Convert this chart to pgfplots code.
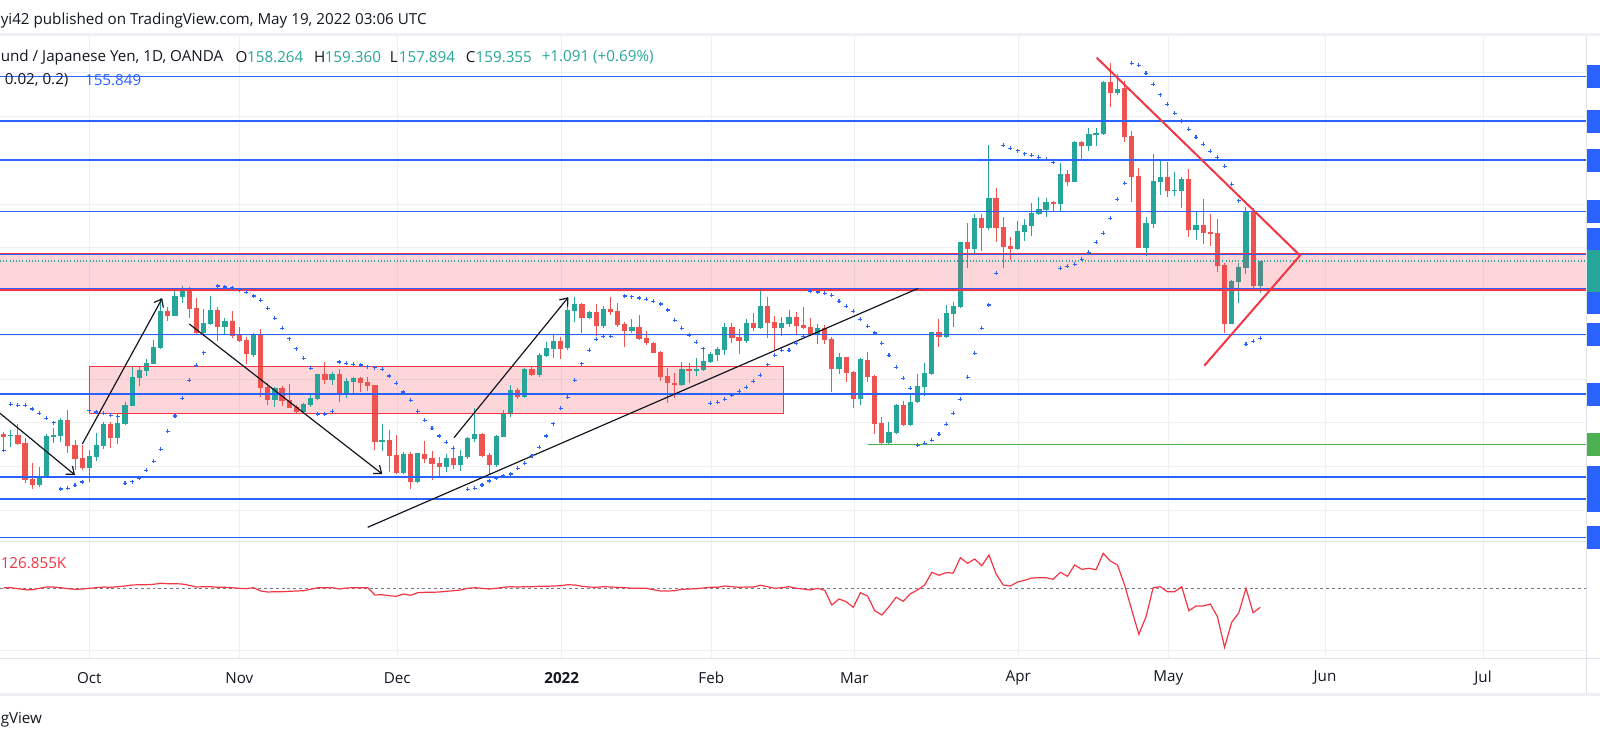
\documentclass[border=0pt]{standalone}
\usepackage{pgfplots}
\pgfplotsset{compat=1.18}
\usepackage{pgfplotstable}
\usepackage{fontspec}
\setmainfont{Open Sans}
\usetikzlibrary{arrows.meta}
\definecolor{bull}{HTML}{26A69A}
\definecolor{bear}{HTML}{EF5350}
\definecolor{tvblue}{HTML}{2962FF}
\definecolor{tvred}{HTML}{F23645}
\definecolor{tvgreen}{HTML}{4CAF50}
\definecolor{gridc}{HTML}{EEF0F5}
\definecolor{sepc}{HTML}{E0E3EB}
\definecolor{txt}{HTML}{131722}
\definecolor{dashc}{HTML}{787B86}
\newcommand\tvf{\fontsize{11.4}{13}\selectfont}
\pgfplotsset{bars/.style={x filter/.expression={89.3+7.14*x}}}

% bullish candles: i open high low close (pixel levels, top = 0)
\pgfplotstableread{
i o h l c
-11 436.3 430 446.7 434.7
-7 485 467 487.3 476.7
-6 477.3 434 477.8 436
-5 436.7 428 443.3 435
-4 435.7 418.3 442 420
0 467.7 450 482.3 456
1 456.7 433.3 460.7 445
2 445.7 421.7 449.3 424
4 438.3 416 444 423.3
5 424 402 424.5 405
6 405.7 366.7 406.2 377
7 377.7 366.7 385.7 370
8 370.7 359.3 376 363.3
9 363.7 340 364.3 347
10 348 298.3 349 311
12 315.7 289.3 316.2 296
13 296.7 286 303.3 289.3
16 332.7 309.3 334 323.3
17 324 296 325 310
19 326.7 318.3 335 321
23 355 332.7 357.3 334
26 400 386.7 406.7 387.7
30 411.7 402.7 412.7 404.3
31 405 395 406.7 398.3
32 399 373.5 400 374
34 380 371.7 385 374
36 394.3 377.7 397.7 381
37 381.7 376.7 393.3 377.7
41 441.7 424 450.7 440
44 472.7 451.7 474 454
46 481.7 452.7 482.7 453.3
50 466.7 454.3 471.7 458.3
52 464.7 450 471 456
53 456.7 436.7 459 438.3
54 439 408.3 441.7 434
57 465 435 466.7 436
58 436.7 410 437.2 413.3
59 414 385 416.7 390
61 396.7 367.7 397.7 369
63 375 353.3 376.7 355
64 356 341.7 357.3 348.3
65 349 335 357.7 341
67 348.3 296.7 350 310
68 310.7 296.7 321.7 304
70 317.7 311 319.3 312.3
72 325.7 306 327.7 309.3
76 330.7 319.3 333.3 327.3
83 385 362.3 386 369
85 370.7 358.3 376 369
86 370 348.3 370.5 361
87 362.3 351.7 362.8 354
88 355 346.7 361 349
89 350 323.3 355 326.7
92 341 319.3 342.7 322.7
94 327.7 290 329.3 306
97 327.7 316.7 335.7 322.7
98 324 310 326.7 316.7
102 334.3 324 344 327.7
105 369 353.3 374.3 357.3
108 399 358.3 405 359.3
112 443.3 421.7 444.3 432.3
113 433.3 404 434 405
115 425 392.7 425.5 402.3
116 402.3 374 402.8 386
117 386.7 363.3 396 372.7
118 374 331.5 375 332
120 336.7 305 337.7 312.7
121 314 302 326.7 306
122 306.7 241.7 307.7 242.3
124 249 214.3 255 217.7
126 228.3 145 230 198.3
130 249 221 250 231
131 231.7 219 240.7 225
132 225.7 203.3 236 213
133 214 197 214.5 209
134 210 198.3 217 201.7
136 203.7 162.7 211.7 174
138 181.7 140.7 182.2 142.3
140 145.7 128.3 151 134
141 135 128.3 146 133.3
142 134 80.7 134.5 81.7
144 92.7 74 95 89
148 247.7 217.3 256 223.3
149 224 154 227.7 181
150 181.7 161 195 177
152 190.7 171.7 195.7 189.5
153 190.7 176.7 207.7 179
155 230 211.7 240 225
160 323.7 280 324.3 281
161 281.7 263.3 302.7 267
162 267.7 207.3 274 211.7
164 285.7 260.7 292.7 261
}\bulltab

% bearish candles: i open high low close (pixel levels, top = 0)
\pgfplotstableread{
i o h l c
-12 433.7 432.3 447.7 436.7
-10 435 424 445.3 443.7
-9 442.7 438.3 483.3 480
-8 479 462.7 489 485
-3 420 410 453.3 445.7
-2 445 440 470 459
-1 458.3 445 470 467.7
3 424 421.7 447.7 438.3
11 311 306.7 320.7 315.7
14 290.7 287.3 318.3 308.7
15 308 298.3 335 332.7
18 310.3 307 340.7 326.7
20 321 311 337.7 335.7
21 334.7 326.7 341.7 340.7
22 340 336.7 364 354.3
24 335 329 397.3 388.3
25 387.3 383.3 405 400
27 387.7 386 406 400.7
28 400 384 408.3 407.7
29 406.7 405 412.7 411.7
33 374.3 361.7 384 380
35 374 369 401.7 394.3
38 377.7 376.7 391.7 382.7
39 381.7 376.7 391 385.7
40 385 384.5 450 441.7
42 440 430 471.7 455.7
43 455 435 474 472.7
45 454 451.7 489 481.7
47 454 441 463.3 459
48 458.3 451 480 463.7
49 463.3 456.7 476.7 466.7
51 458.3 448.3 469 464.7
55 434 433.3 457.3 455.7
56 455 453.3 475 465
60 390 388.3 399 396.7
62 369 367.3 376 375
66 341 336.7 359 349
69 304 302.7 332.7 317.7
71 312.3 304.3 335.7 325.7
73 309.3 296.7 315 311.7
74 311 303.3 326.7 325
75 324 321.7 346.7 330.7
77 327.3 315 340 339
78 338.3 330.7 345 343.3
79 343 341.7 353.3 352.7
80 352 351 381 376.7
81 376 368 402.7 383.3
82 383.3 372.7 398.3 385
84 369 363.3 383.3 370.7
90 326.7 323.3 343.3 337.7
91 337.3 329.3 354 340.7
93 322.7 313.3 331 328.3
95 306 296.7 338.3 322.7
96 321.7 316 350 327.7
99 316.7 311.7 334 325.7
100 325 306.7 329.3 327.7
101 327.3 318.3 335.7 335
103 327.7 325 344 340
104 339 337.3 391.7 369
106 357.3 356.8 381.7 372.7
107 371.7 371.2 407.7 399
109 360 351.7 382.3 376.7
110 376 375 434 424
111 423.3 416.7 443.8 443.3
114 405 401 425.5 425
119 332 319.3 346.7 336.7
123 242.3 222.7 267.7 249
125 217.7 214.3 251 227.7
127 198.3 188.3 241.7 228.3
128 227.3 217 267.7 247
129 246 236.7 260 249
135 201.7 200.7 211 203.7
137 174 170 186 181.7
139 142.3 141 159 145.7
143 81.7 62.7 106.7 92.7
145 88.3 81 141.7 136.7
146 136 131 201.7 176.7
147 176 168.3 248.2 247.7
151 177 162.3 196.7 190.7
154 179 169.3 236.7 230
156 225 199 244.3 232.7
157 232 214 245.7 233.7
158 233 219 272.3 265.7
159 265 263.3 333.3 323.7
163 211.7 208.3 290 285.7
}\beartab

% parabolic SAR points: i level
\pgfplotstableread{
i s
-12 450.3
-11 404.3
-10 405.3
-9 405.3
-8 409
-7 413.3
-6 418.3
-5 422.7
-4 489
-3 488.3
-2 485.3
-1 482
0 410.7
1 412
2 413.3
3 415.3
4 416.3
5 483.3
6 481.7
7 478.3
8 470.3
9 461.3
10 449.3
11 431.3
12 416
13 398.3
14 380.3
15 365.3
16 352.7
18 286
19 287
20 287.7
21 289.5
22 292.3
23 296
24 300.3
25 308.3
26 318.3
27 328.3
28 338.7
29 348.7
30 358.3
31 368.3
32 414
33 414
34 411.3
35 362
36 363.3
37 364.3
38 365
39 366.7
40 367.7
41 369.3
42 376
43 383.3
44 392
45 400.3
46 411.3
47 420.3
48 428.3
49 436
50 442.3
51 448.3
53 489.3
54 488.3
55 485
56 481
57 478.3
58 476
59 474
60 468.3
61 463.3
62 455.5
63 447.3
64 436
65 423.7
66 408.3
67 397.3
68 380.3
69 363.7
70 350.3
71 339.3
72 336.3
73 336.3
75 296
76 296.7
77 298
78 299.3
79 301.3
80 304
81 310
82 320.3
83 328.3
84 335.3
85 342.3
86 348.7
87 403.3
88 402.3
89 399.3
90 395.3
91 391.3
92 387.3
93 381.3
94 375.3
95 364.7
96 355.3
97 350.3
98 350.3
99 343.3
100 336.3
101 291
102 292
103 293.3
104 295.3
105 301.3
106 306.3
107 311.3
108 319.3
109 326.3
110 333
111 343.3
112 355.3
113 367.3
114 378.3
115 388.3
116 445.3
117 443.3
118 440.3
119 434.3
120 424.3
121 413.3
122 399.3
123 377.3
124 353.3
125 328.3
126 305
127 273.3
128 145.3
129 148.3
130 150.7
131 153.7
132 155.3
133 157.3
134 159.3
135 162.3
136 268.3
137 266.3
138 264.3
139 259.3
140 252.3
141 242.3
142 233.3
143 218.3
144 199.3
145 183.3
146 63.3
147 65.3
148 73.3
149 84.3
150 94.7
151 104.3
152 113.3
153 121
154 129.3
155 137.3
156 144.3
157 151.3
158 157.3
159 166.3
160 184.3
161 200.7
162 344.3
163 341.3
164 338.3
}\sartab

% lower pane indicator: i level
\pgfplotstableread{
i v
-12 587.7
-11 587.7
-10 588.7
-9 589.7
-8 589.7
-7 588.3
-6 587
-5 587
-4 587.7
-3 588.7
-2 589.3
-1 589
0 588.3
1 587.7
2 587
3 587.3
4 586.7
5 586
6 585
7 584.7
8 584.7
9 584.3
10 583.3
11 583.7
12 583.7
13 584
14 585.3
15 587
16 586.7
17 586.7
18 587.3
19 587.3
20 587.7
21 588.3
22 588.7
23 587.7
24 591
25 592
26 591.7
27 591.7
28 591.3
29 591
30 590.7
31 589.3
32 587.7
33 587.7
34 587.7
35 589
36 588
37 587.7
38 587.7
39 587.7
40 595
41 594.7
42 595.7
43 596.3
44 594
45 595.3
46 592.7
47 592.3
48 592.3
49 592
50 591.3
51 590.7
52 590
53 588.3
54 587.7
55 588.3
56 589
57 588.3
58 587.3
59 586.7
60 587
61 586.7
62 586.7
63 586.3
64 586.3
65 586
66 585.7
67 584.7
68 585
69 586.3
70 587
71 587.3
72 586.7
73 587
74 587.3
75 587.7
76 588.3
77 588.3
78 588.3
79 589.7
80 591
81 591
82 590.7
83 589.3
84 589
85 588.7
86 588
87 587.3
88 587.3
89 586
90 586.7
91 587.3
92 587
93 587
94 585.3
95 586.7
96 588.3
97 587.7
98 586.7
99 588.3
100 589
101 590
102 588.3
103 590.3
104 605
105 599
106 601.7
107 607.3
108 592.7
109 596
110 610.7
111 615
112 606.7
113 597.3
114 601.3
115 593.7
116 590
117 585
118 572.3
119 575.3
120 572.7
121 573
122 557.7
123 563.3
124 559
125 565.7
126 555
127 574
128 585
129 586
130 582
131 580.3
132 578
133 577.7
134 577.7
135 579.3
136 572.3
137 576.3
138 565
139 569.3
140 568.3
141 569.7
142 553.3
143 561
144 565
145 585
146 610
147 634.3
148 616.7
149 587.7
150 586.7
151 591.7
152 591.7
153 586.7
154 610.7
155 606
156 606
157 604
158 616.7
159 647.3
160 622.3
161 612.7
162 588.3
163 612.7
164 607.3
}\indtab

\begin{document}
\begin{tikzpicture}
\useasboundingbox (0,0) rectangle (1200pt,556.5pt);
\clip (0,0) rectangle (1200pt,556.5pt);
\fill[white] (0,0) rectangle (1200pt,556.5pt);
\begin{axis}[
  at={(0,0)}, anchor=south west,
  width=1200pt, height=556.5pt, scale only axis,
  xmin=0, xmax=1600, ymin=0, ymax=742, y dir=reverse,
  hide axis, clip=false,
]
% month grid lines
\foreach \xx in {89.3,239.3,397.3,561.7,711.3,854.3,1018.3,1168.3,1325,1483}{
  \edef\tmp{\noexpand\draw[gridc, line width=0.75pt] (axis cs:\xx,36) -- (axis cs:\xx,658.3);}\tmp
}
% horizontal grid lines
\foreach \yy in {72.7,116.7,160,204,247,291,335,379.3,422.7,466.7,510,650.3}{
  \edef\tmp{\noexpand\draw[gridc, line width=0.75pt] (axis cs:0,\yy) -- (axis cs:1586,\yy);}\tmp
}
% separators
\draw[gridc, line width=2pt] (axis cs:0,34.7) -- (axis cs:1600,34.7);
\draw[sepc, line width=0.75pt] (axis cs:0,541) -- (axis cs:1586,541);
\draw[sepc, line width=0.75pt] (axis cs:0,658.3) -- (axis cs:1600,658.3);
\draw[gridc, line width=2pt] (axis cs:0,694.3) -- (axis cs:1600,694.3);
\draw[sepc, line width=0.75pt] (axis cs:1586,36) -- (axis cs:1586,694);

% lower zone rectangle fill
\fill[tvred, opacity=0.2] (axis cs:89.3,366.7) rectangle (axis cs:783.3,413.3);

% candles
\addplot[bars, bull, line width=0.75pt, mark=none, forget plot, quiver={u=0, v=\thisrow{l}-\thisrow{h}}] table[x=i, y=h] {\bulltab};
\addplot[bars, bull, line width=3.9pt, mark=none, forget plot, quiver={u=0, v=\thisrow{o}-\thisrow{c}}] table[x=i, y=c] {\bulltab};
\addplot[bars, bear, line width=0.75pt, mark=none, forget plot, quiver={u=0, v=\thisrow{l}-\thisrow{h}}] table[x=i, y=h] {\beartab};
\addplot[bars, bear, line width=3.9pt, mark=none, forget plot, quiver={u=0, v=\thisrow{c}-\thisrow{o}}] table[x=i, y=o] {\beartab};

% parabolic SAR
\addplot[bars, only marks, mark=+, mark size=1.5pt, color=tvblue, mark options={line width=0.8pt}] table[x=i, y=s] {\sartab};

% upper zone
\fill[tvred, opacity=0.2] (axis cs:0,254) rectangle (axis cs:1586,289.7);
\draw[tvred, line width=0.75pt] (axis cs:89.3,366.7) rectangle (axis cs:783.3,413.3);

% horizontal levels
\addplot[tvblue, line width=0.8pt] coordinates {(0,76.3) (1586,76.3)};
\addplot[tvblue, line width=0.8pt] coordinates {(0,121) (1586,121)};
\addplot[tvblue, line width=0.8pt] coordinates {(0,160) (1586,160)};
\addplot[tvblue, line width=0.8pt] coordinates {(0,211.3) (1586,211.3)};
\addplot[tvblue, line width=0.8pt] coordinates {(0,254.5) (1586,254.5)};
\addplot[tvblue, line width=0.8pt] coordinates {(0,289) (1586,289)};
\addplot[tvred, line width=1pt] coordinates {(0,253.6) (1586,253.6)};
\addplot[tvred, line width=1pt] coordinates {(0,290) (1586,290)};
\addplot[tvblue, line width=0.8pt] coordinates {(0,334.3) (1586,334.3)};
\addplot[tvblue, line width=1.6pt] coordinates {(0,393.7) (1586,393.7)};
\addplot[tvgreen, line width=0.8pt] coordinates {(868.3,444.3) (1586,444.3)};
\addplot[tvblue, line width=1.6pt] coordinates {(0,476.7) (1586,476.7)};
\addplot[tvblue, line width=1.6pt] coordinates {(0,498.7) (1586,498.7)};
\addplot[tvblue, line width=0.8pt] coordinates {(0,537.3) (1586,537.3)};
\addplot[bull, line width=0.8pt, dash pattern=on 0.8pt off 1.6pt] coordinates {(0,261) (1586,261)};

% trend lines and arrows
\draw[txt, line width=0.9pt, -{Straight Barb[length=5pt,width=8pt]}] (axis cs:0,413.3) -- (axis cs:75,475);
\draw[txt, line width=0.9pt, -{Straight Barb[length=5pt,width=8pt]}] (axis cs:82.3,444) -- (axis cs:162.3,298.3);
\draw[txt, line width=0.9pt, -{Straight Barb[length=5pt,width=8pt]}] (axis cs:189.3,324) -- (axis cs:382.3,474);
\draw[txt, line width=0.9pt, -{Straight Barb[length=5pt,width=8pt]}] (axis cs:454,437.7) -- (axis cs:568.3,297.3);
\draw[txt, line width=0.9pt] (axis cs:367.7,527.3) -- (axis cs:918.3,288.3);
\draw[tvred, line width=1.5pt] (axis cs:1096.7,57.7) -- (axis cs:1300,255.5) -- (axis cs:1204.3,365.7);

% lower pane
\addplot[dashc, line width=0.75pt, dash pattern=on 2.2pt off 2.2pt] coordinates {(0,588.3) (1586,588.3)};
\addplot[bars, tvred, line width=0.9pt, mark=none] table[x=i, y=v] {\indtab};

% right scale labels
\fill[tvblue] (axis cs:1586.5,65) rectangle (axis cs:1600,87.7);
\fill[tvblue] (axis cs:1586.5,110) rectangle (axis cs:1600,132.7);
\fill[tvblue] (axis cs:1586.5,149) rectangle (axis cs:1600,171.7);
\fill[tvblue] (axis cs:1586.5,200) rectangle (axis cs:1600,222.7);
\fill[tvblue] (axis cs:1586.5,228) rectangle (axis cs:1600,250);
\fill[bull] (axis cs:1586.5,250) rectangle (axis cs:1600,291.7);
\fill[tvblue] (axis cs:1586.5,291.7) rectangle (axis cs:1600,314.3);
\fill[tvblue] (axis cs:1586.5,323) rectangle (axis cs:1600,345.7);
\fill[tvblue] (axis cs:1586.5,383) rectangle (axis cs:1600,405.7);
\fill[tvgreen] (axis cs:1586.5,433) rectangle (axis cs:1600,455.7);
\fill[tvblue] (axis cs:1586.5,466) rectangle (axis cs:1600,511.7);
\fill[tvblue] (axis cs:1586.5,526) rectangle (axis cs:1600,548.7);

% texts
\node[anchor=west, inner sep=0, text=txt, font=\tvf] at (axis cs:0.5,20.7) {yi42 published on TradingView.com, May 19, 2022 03:06 UTC};
\node[anchor=west, inner sep=0, text=txt, font=\tvf] at (axis cs:0.5,57.3) {und / Japanese Yen, 1D, OANDA};
\node[anchor=west, inner sep=0, text=txt, font=\tvf] at (axis cs:235.3,57.3) {O};
\node[anchor=west, inner sep=0, text=bull, font=\tvf] at (axis cs:246.9,57.3) {158.264};
\node[anchor=west, inner sep=0, text=txt, font=\tvf] at (axis cs:313.8,57.3) {H};
\node[anchor=west, inner sep=0, text=bull, font=\tvf] at (axis cs:324.5,57.3) {159.360};
\node[anchor=west, inner sep=0, text=txt, font=\tvf] at (axis cs:389.7,57.3) {L};
\node[anchor=west, inner sep=0, text=bull, font=\tvf] at (axis cs:398.6,57.3) {157.894};
\node[anchor=west, inner sep=0, text=txt, font=\tvf] at (axis cs:465.6,57.3) {C};
\node[anchor=west, inner sep=0, text=bull, font=\tvf] at (axis cs:475.4,57.3) {159.355};
\node[anchor=west, inner sep=0, text=bull, font=\tvf] at (axis cs:541.5,57.3) {+1.091 (+0.69\%)};
\node[anchor=west, inner sep=0, text=txt, font=\tvf] at (axis cs:4.5,80) {0.02, 0.2)};
\node[anchor=west, inner sep=0, text=tvblue, font=\tvf] at (axis cs:84.8,80) {155.849};
\node[anchor=west, inner sep=0, text=tvred, font=\tvf] at (axis cs:0.5,563.3) {126.855K};
\node[text=txt, font=\tvf] at (axis cs:89.3,677.7) {Oct};
\node[text=txt, font=\tvf] at (axis cs:239.3,677.7) {Nov};
\node[text=txt, font=\tvf] at (axis cs:397.3,677.7) {Dec};
\node[text=txt, font=\tvf\bfseries] at (axis cs:561.7,677.7) {2022};
\node[text=txt, font=\tvf] at (axis cs:711.3,677.7) {Feb};
\node[text=txt, font=\tvf] at (axis cs:854.3,677.7) {Mar};
\node[text=txt, font=\tvf] at (axis cs:1018.3,677.7) {Apr};
\node[text=txt, font=\tvf] at (axis cs:1168.3,677.7) {May};
\node[text=txt, font=\tvf] at (axis cs:1325,677.7) {Jun};
\node[text=txt, font=\tvf] at (axis cs:1483,677.7) {Jul};
\node[anchor=west, inner sep=0, text=txt, font=\tvf] at (axis cs:0.5,720) {gView};
\end{axis}
\end{tikzpicture}
\end{document}
